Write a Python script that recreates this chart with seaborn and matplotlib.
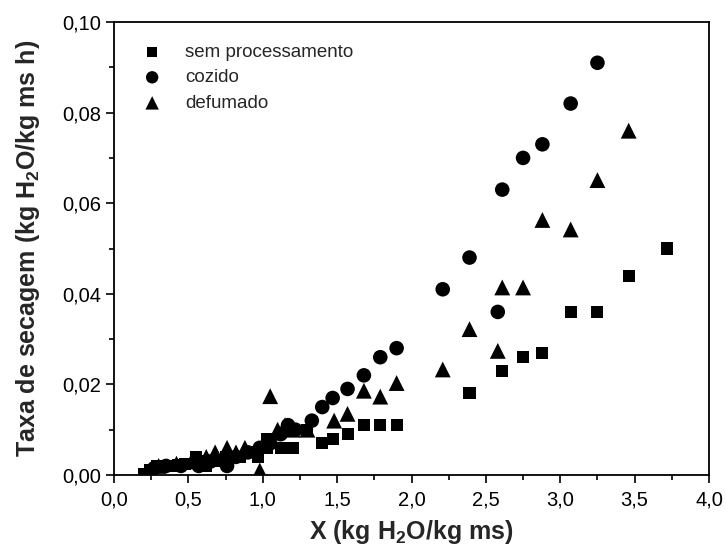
import matplotlib
matplotlib.use("Agg")
import matplotlib.pyplot as plt
import seaborn as sns
import pandas as pd
import numpy as np
from matplotlib.ticker import MultipleLocator, FuncFormatter
from matplotlib import font_manager

# ---- data ----
series_names = ["sem processamento", "cozido", "defumado"]

sem_x = [0.20, 0.24, 0.29, 0.33, 0.38, 0.43, 0.48, 0.55, 0.58, 0.62, 0.70, 0.75, 0.85, 0.92, 0.97,
         1.03, 1.03, 1.12, 1.20, 1.30, 1.40, 1.47, 1.57, 1.68, 1.79, 1.90, 2.39, 2.61, 2.75, 2.88,
         3.07, 3.25, 3.46, 3.72]
sem_y = [0.0002, 0.0012, 0.0020, 0.0020, 0.0020, 0.0022, 0.0025, 0.0040, 0.0030, 0.0020, 0.0030,
         0.0040, 0.0040, 0.0050, 0.0040, 0.0080, 0.0060, 0.0060, 0.0060, 0.0100, 0.0070, 0.0080,
         0.0090, 0.0110, 0.0110, 0.0110, 0.0180, 0.0230, 0.0260, 0.0270, 0.0360, 0.0360, 0.0440,
         0.0500]

coz_x = [0.27, 0.35, 0.45, 0.57, 0.65, 0.76, 0.82, 0.90, 0.98, 1.05, 1.12, 1.17, 1.22, 1.33, 1.40,
         1.47, 1.57, 1.68, 1.79, 1.90, 2.21, 2.39, 2.58, 2.61, 2.75, 2.88, 3.07, 3.25]
coz_y = [0.0015, 0.0020, 0.0020, 0.0020, 0.0030, 0.0020, 0.0040, 0.0050, 0.0060, 0.0070, 0.0090,
         0.0110, 0.0100, 0.0120, 0.0150, 0.0170, 0.0190, 0.0220, 0.0260, 0.0280, 0.0410, 0.0480,
         0.0360, 0.0630, 0.0700, 0.0730, 0.0820, 0.0910]

def_x = [0.30, 0.42, 0.52, 0.62, 0.68, 0.76, 0.82, 0.88, 0.98, 1.05, 1.10, 1.15, 1.20, 1.30, 1.48,
         1.57, 1.68, 1.79, 1.90, 2.21, 2.39, 2.58, 2.61, 2.75, 2.88, 3.07, 3.25, 3.46]
def_y = [0.0020, 0.0025, 0.0030, 0.0040, 0.0050, 0.0060, 0.0050, 0.0060, 0.0010, 0.0174, 0.0100,
         0.0110, 0.0100, 0.0100, 0.0120, 0.0135, 0.0186, 0.0173, 0.0203, 0.0233, 0.0322, 0.0274,
         0.0414, 0.0414, 0.0563, 0.0542, 0.0651, 0.0760]

x_ticks = [0.0, 0.5, 1.0, 1.5, 2.0, 2.5, 3.0, 3.5, 4.0]
y_ticks = [0.00, 0.02, 0.04, 0.06, 0.08, 0.10]

df = pd.concat([
    pd.DataFrame({"X": sem_x, "taxa": sem_y, "serie": series_names[0]}),
    pd.DataFrame({"X": coz_x, "taxa": coz_y, "serie": series_names[1]}),
    pd.DataFrame({"X": def_x, "taxa": def_y, "serie": series_names[2]}),
], ignore_index=True)

# ---- style ----
sns.set_style("ticks")
plt.rcParams["font.family"] = ["Liberation Sans", "DejaVu Sans"]
plt.rcParams["mathtext.fontset"] = "custom"
plt.rcParams["mathtext.rm"] = "Liberation Sans"
plt.rcParams["mathtext.bf"] = "Liberation Sans:bold"

avail = {f.name for f in font_manager.fontManager.ttflist}
tick_family = "Liberation Sans Narrow" if "Liberation Sans Narrow" in avail else "Liberation Sans"

fig = plt.figure(figsize=(7.26, 5.52), dpi=100)
ax = fig.add_axes([114 / 726, 1 - 475 / 552, (709 - 114) / 726, (475 - 22) / 552])

sizes = {"sem processamento": 75, "cozido": 110, "defumado": 130}
markers = {"sem processamento": "s", "cozido": "o", "defumado": "^"}

for name in series_names:
    sns.scatterplot(data=df[df["serie"] == name], x="X", y="taxa", marker=markers[name],
                    color="black", s=sizes[name], edgecolor="none", linewidth=0,
                    ax=ax, label=name, zorder=3)

ax.set_xlim(0, 4.0)
ax.set_ylim(0, 0.10)
ax.set_xticks(x_ticks)
ax.set_yticks(y_ticks)
ax.xaxis.set_minor_locator(MultipleLocator(0.25))
ax.yaxis.set_minor_locator(MultipleLocator(0.01))
ax.xaxis.set_major_formatter(FuncFormatter(lambda v, p: f"{v:.1f}".replace(".", ",")))
ax.yaxis.set_major_formatter(FuncFormatter(lambda v, p: f"{v:.2f}".replace(".", ",")))

for sp in ax.spines.values():
    sp.set_linewidth(1.3)
    sp.set_color("black")
ax.tick_params(which="major", direction="out", length=6, width=1.2, colors="black",
               labelsize=14.5, top=False, right=False)
ax.tick_params(axis="x", which="major", pad=5)
ax.tick_params(which="minor", direction="out", length=3.5, width=1.2, colors="black",
               top=False, right=False)
for lab in ax.get_xticklabels() + ax.get_yticklabels():
    lab.set_family(tick_family)

ax.set_xlabel(r"X (kg H$_\mathbf{2}$O/kg ms)", fontsize=18, fontweight="bold", labelpad=6)
ax.set_ylabel(r"Taxa de secagem (kg H$_\mathbf{2}$O/kg ms h)", fontsize=18, fontweight="bold",
              labelpad=14)

leg = ax.legend(loc="upper left", frameon=False, fontsize=13.5, bbox_to_anchor=(0.02, 0.969),
                borderaxespad=0, handlelength=2.0, handletextpad=0.76, labelspacing=0.45,
                markerscale=0.85)

fig.savefig("out.png", dpi=100)
